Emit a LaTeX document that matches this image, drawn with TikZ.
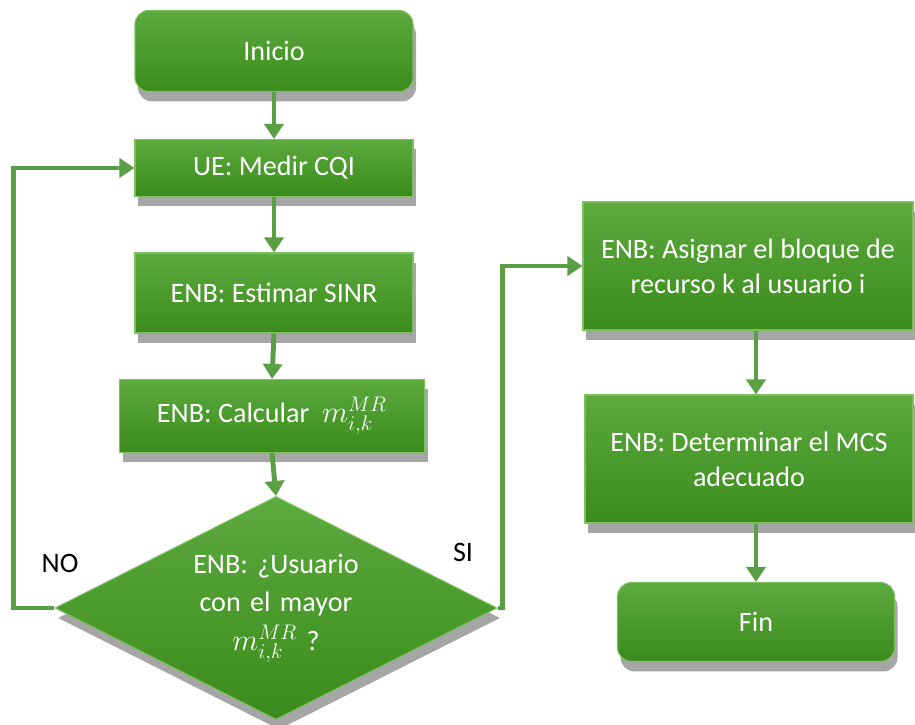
\documentclass[tikz,border=0pt]{standalone}
\usepackage{fontspec}
\setmainfont{Carlito}
\usetikzlibrary{arrows.meta,calc,shapes.geometric,shadows}
\definecolor{leaf}{HTML}{5DAA3E}
\definecolor{moss}{HTML}{3A8B1C}
\definecolor{rim}{HTML}{7DBF5E}
\definecolor{link}{HTML}{5A9F45}
\newcommand{\metric}{{\fontsize{18.5}{20}\selectfont$m_{i,k}^{MR}$}}
\tikzset{
  stepbox/.style={
    draw=rim,
    line width=0.6pt,
    top color=leaf,
    bottom color=moss,
    text=white,
    align=center,
    inner sep=2pt,
    font=\fontsize{16}{20}\selectfont,
    drop shadow={shadow xshift=0.06cm, shadow yshift=-0.2cm, opacity=0.35, fill=black}
  },
  endbox/.style={
    stepbox,
    rounded corners=8pt
  },
  decision/.style={
    stepbox,
    diamond,
    aspect=2,
    inner sep=0pt,
    text width=4cm,
    font=\fontsize{16}{22}\selectfont,
    minimum width=8.84cm,
    minimum height=4.46cm
  },
  flow/.style={
    draw=link,
    line width=2.8pt,
    -{Triangle[width=0.38cm,length=0.3cm]}
  },
  tag/.style={
    text=black,
    font=\fontsize{16}{20}\selectfont
  }
}
\begin{document}
\begin{tikzpicture}
  \useasboundingbox (0,0) rectangle (18.3,14.5);

  % --- left column ---
  \node[endbox, minimum width=5.56cm, minimum height=1.62cm] (inicio) at (5.48,13.48) {Inicio};
  \node[stepbox, minimum width=5.56cm, minimum height=1.14cm] (medir) at (5.48,11.14) {UE: Medir CQI};
  \node[stepbox, minimum width=5.56cm, minimum height=1.6cm] (sinr) at (5.48,8.64) {ENB: Estimar SINR};
  \node[stepbox, minimum width=6.1cm, minimum height=1.46cm] (calc) at (5.44,6.18) {ENB: Calcular \ \metric};
  \node[decision] (mayor) at (5.52,2.34) {ENB: ¿Usuario\\con el mayor\\\metric\ ?};

  % --- right column ---
  \node[stepbox, minimum width=6.6cm, minimum height=2.56cm] (asig) at (14.96,9.18) {ENB: Asignar el bloque de\\recurso k al usuario i};
  \node[stepbox, minimum width=6.56cm, minimum height=2.56cm] (mcs) at (14.98,5.32) {ENB: Determinar el MCS\\adecuado};
  \node[endbox, minimum width=5.54cm, minimum height=1.58cm] (fin) at (15.12,2.06) {Fin};

  % --- connectors ---
  \draw[flow] (inicio.south) -- (medir.north);
  \draw[flow] (medir.south) -- (sinr.north);
  \draw[flow] (sinr.south) -- (calc.north);
  \draw[flow] (calc.south) -- (mayor.north);
  \draw[flow] (mayor.west) -- ++(-0.82,0) |- (medir.west);
  \draw[flow] (mayor.east) -- ++(0.1,0) |- (asig.west);
  \draw[flow] (asig.south -| fin) -- (mcs.north -| fin);
  \draw[flow] (mcs.south -| fin) -- (fin.north);

  % --- branch labels ---
  \node[tag] (no) at (1.2,3.24) {NO};
  \node[tag] (si) at (9.26,3.46) {SI};

\end{tikzpicture}
\end{document}
